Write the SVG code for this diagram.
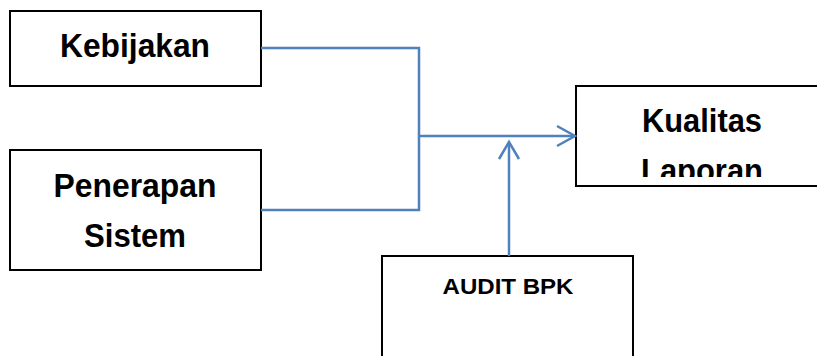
<svg xmlns="http://www.w3.org/2000/svg" width="817" height="356" viewBox="0 0 817 356">
<style>
.box{fill:#fff;stroke:#000;stroke-width:2}
.lbl{font-family:"Liberation Sans",Arial,sans-serif;font-weight:bold;fill:#000;text-anchor:middle}
.big{font-size:34px}
.small{font-size:22px}
.conn{fill:none;stroke:#4F81BD;stroke-width:2.5}
</style>
<defs>
<clipPath id="clipK"><rect x="577" y="87" width="240" height="90"/></clipPath>
</defs>
<rect width="817" height="356" fill="#fff"/>
<g id="kebijakan">
<rect class="box" x="10" y="11" width="251" height="75"/>
<text class="lbl big" x="135" y="57" textLength="150" lengthAdjust="spacingAndGlyphs">Kebijakan</text>
</g>
<g id="penerapan">
<rect class="box" x="10" y="150" width="251" height="120"/>
<text class="lbl big" x="135" y="197" textLength="163" lengthAdjust="spacingAndGlyphs">Penerapan</text>
<text class="lbl big" x="135" y="247" textLength="102" lengthAdjust="spacingAndGlyphs">Sistem</text>
</g>
<g id="kualitas">
<rect class="box" x="576" y="86" width="245" height="100"/>
<g clip-path="url(#clipK)">
<text class="lbl big" x="702" y="132" textLength="120" lengthAdjust="spacingAndGlyphs">Kualitas</text>
<text class="lbl big" x="702" y="182" textLength="122" lengthAdjust="spacingAndGlyphs">Laporan</text>
</g>
</g>
<g id="audit">
<rect class="box" x="382" y="256" width="251" height="110"/>
<text class="lbl small" x="508" y="294" textLength="131" lengthAdjust="spacingAndGlyphs">AUDIT BPK</text>
</g>
<g id="connectors">
<polyline class="conn" points="261,48 419,48 419,210 261,210"/>
<line class="conn" x1="419" y1="136" x2="574" y2="136"/>
<polyline class="conn" points="557,126 575,136 557,146"/>
<line class="conn" x1="509" y1="256" x2="509" y2="143"/>
<polyline class="conn" points="499,159 509,142 519,159"/>
</g>
</svg>
